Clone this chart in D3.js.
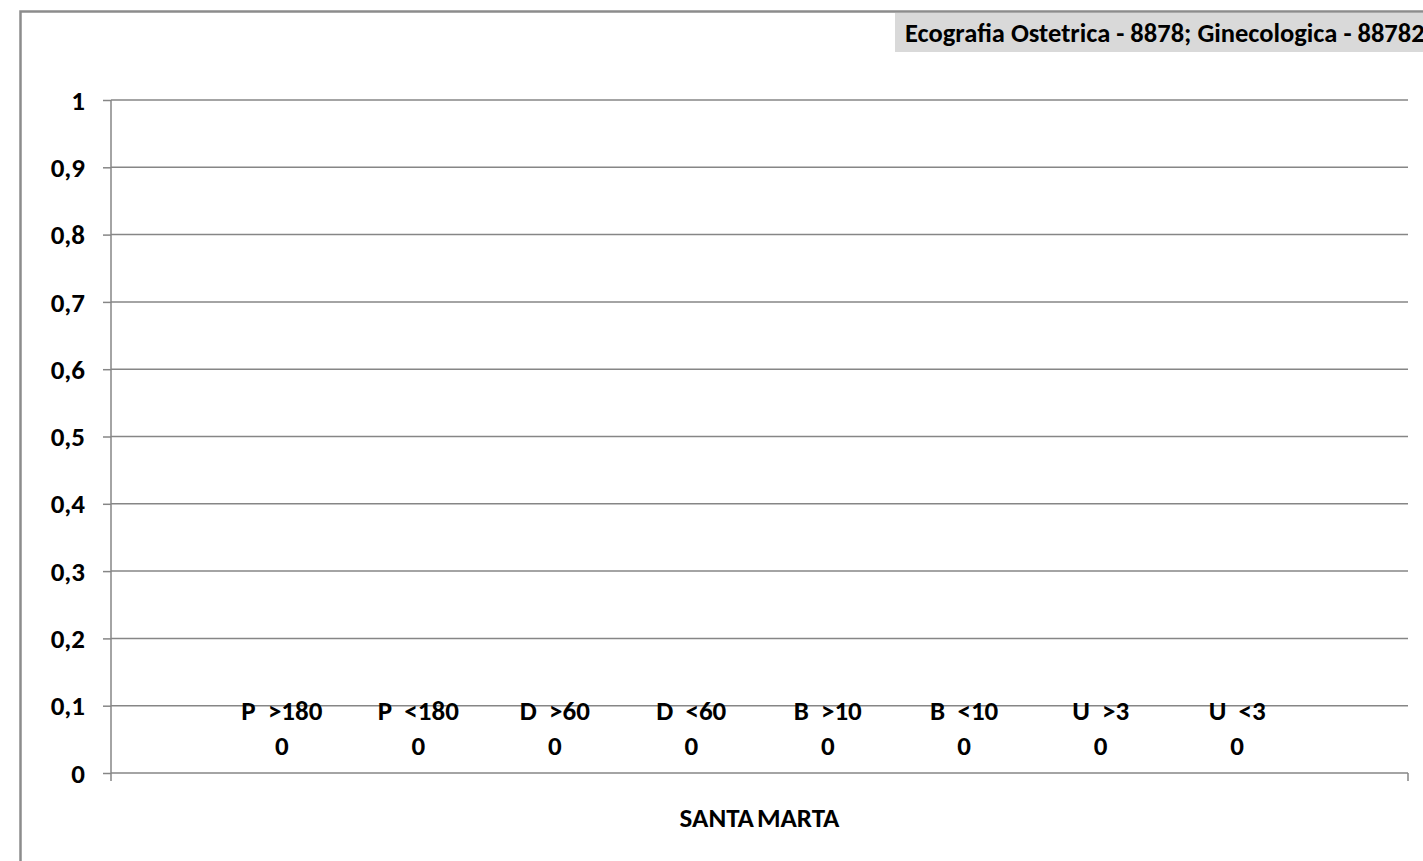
<!DOCTYPE html>
<html>
<head>
<meta charset="utf-8">
<script src="https://cdn.jsdelivr.net/npm/d3@7"></script>
<style>
  html, body { margin: 0; padding: 0; background: #fff; overflow: hidden; }
  svg { display: block; }
  text { font-family: Carlito, Lato, "Open Sans", sans-serif; font-weight: bold; fill: #000; }
</style>
</head>
<body>
<script>
// ---- data ----
const categories = ["SANTA MARTA"];
const seriesNames = ["P  >180", "P  <180", "D  >60", "D  <60", "B  >10", "B  <10", "U  >3", "U  <3"];
const seriesValues = [0, 0, 0, 0, 0, 0, 0, 0];
const yTicks = [0, 0.1, 0.2, 0.3, 0.4, 0.5, 0.6, 0.7, 0.8, 0.9, 1];
const chartTitle = "Ecografia Ostetrica - 8878; Ginecologica - 88782";

const W = 1423, H = 861;
const svg = d3.select("body").append("svg").attr("width", W).attr("height", H);

const gridColor = "#868686";
const plot = { left: 111, right: 1408, top: 100, bottom: 773 };

// outer chart border
svg.append("rect")
  .attr("x", 20.5).attr("y", 11.5)
  .attr("width", W + 10).attr("height", H + 10)
  .attr("fill", "none").attr("stroke", "#8c8c8c").attr("stroke-width", 2.5);

// scales
const y = d3.scaleLinear().domain([0, 1]).range([plot.bottom, plot.top]);
const x0 = d3.scaleBand().domain(categories).range([plot.left, plot.right]).paddingInner(0).paddingOuter(0.094);
const x1 = d3.scaleBand().domain(seriesNames).range([0, x0.bandwidth()]);

const loc = d3.formatLocale({ decimal: ",", thousands: ".", grouping: [3], currency: ["", "€"] });
const fmt = loc.format(".1~f");

// gridlines
svg.append("g").selectAll("line").data(yTicks.filter(d => d > 0)).join("line")
  .attr("x1", plot.left).attr("x2", plot.right)
  .attr("y1", d => y(d)).attr("y2", d => y(d))
  .attr("stroke", gridColor).attr("stroke-width", 1.5);

// y axis
const yAxis = d3.axisLeft(y).tickValues(yTicks).tickSize(8).tickPadding(18).tickFormat(fmt);
const gy = svg.append("g").attr("transform", `translate(${plot.left},0)`).call(yAxis);
gy.select(".domain").remove();
gy.selectAll(".tick line").attr("stroke", gridColor).attr("stroke-width", 1.5);
gy.selectAll(".tick text").style("font-size", "27px").attr("dy", "0.34em");
svg.append("line")
  .attr("x1", plot.left).attr("x2", plot.left)
  .attr("y1", plot.top).attr("y2", plot.bottom + 8)
  .attr("stroke", gridColor).attr("stroke-width", 1.5);

// x axis
svg.append("line")
  .attr("x1", plot.left).attr("x2", plot.right)
  .attr("y1", plot.bottom).attr("y2", plot.bottom)
  .attr("stroke", gridColor).attr("stroke-width", 1.5);
svg.append("line")
  .attr("x1", plot.right).attr("x2", plot.right)
  .attr("y1", plot.bottom).attr("y2", plot.bottom + 8)
  .attr("stroke", gridColor).attr("stroke-width", 1.5);

svg.append("text")
  .attr("x", x0(categories[0]) + x0.bandwidth() / 2)
  .attr("y", 827)
  .attr("text-anchor", "middle")
  .style("font-size", "27px")
  .style("word-spacing", "-3px")
  .text(categories[0]);

// bars (zero height) and labels
const series = seriesNames.map((n, i) => ({ name: n, value: seriesValues[i] }));
const g = svg.append("g").attr("transform", `translate(${x0(categories[0])},0)`);
g.selectAll("rect").data(series).join("rect")
  .attr("x", d => x1(d.name)).attr("width", x1.bandwidth())
  .attr("y", d => y(d.value)).attr("height", d => y(0) - y(d.value))
  .attr("fill", "#4f81bd");
const lab = g.selectAll("text.lab").data(series).join("text")
  .attr("class", "lab")
  .attr("text-anchor", "middle")
  .style("font-size", "27px")
  .attr("xml:space", "preserve")
  .style("white-space", "pre");
lab.append("tspan")
  .attr("x", d => x1(d.name) + x1.bandwidth() / 2)
  .attr("y", d => y(d.value) - 53)
  .text(d => d.name);
lab.append("tspan")
  .attr("x", d => x1(d.name) + x1.bandwidth() / 2)
  .attr("y", d => y(d.value) - 18)
  .text(d => fmt(d.value));

// title box
svg.append("rect")
  .attr("x", 895).attr("y", 13).attr("width", W - 895).attr("height", 39)
  .attr("fill", "#d9d9d9");
svg.append("text")
  .attr("x", 905).attr("y", 42)
  .style("font-size", "26.5px")
  .text(chartTitle);
</script>
</body>
</html>
